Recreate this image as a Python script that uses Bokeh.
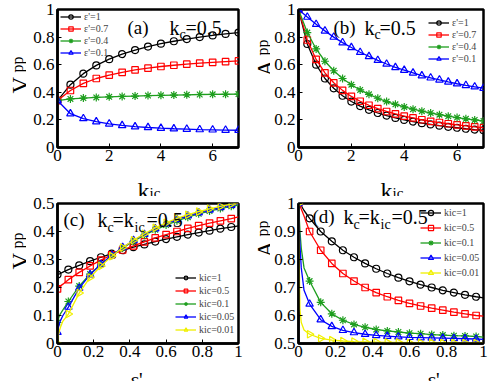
import math
from bokeh.plotting import figure
from bokeh.layouts import row, column
from bokeh.models import Label, Legend, LegendItem, FixedTicker, Range1d
from bokeh.embed import file_html
from bokeh.resources import INLINE

SERIF = "Liberation Serif"

# ---------------- data: panel (a)  V_pp vs k_ic ----------------
a_kic = [0, 0.5, 1, 1.5, 2, 2.5, 3, 3.5, 4, 4.5, 5, 5.5, 6, 6.5, 7]
a_e1 = [0.34, 0.455, 0.535, 0.595, 0.64, 0.677, 0.706, 0.731, 0.752, 0.77, 0.786, 0.80, 0.812, 0.823, 0.833]
a_e07 = [0.34, 0.413, 0.465, 0.50, 0.525, 0.545, 0.562, 0.575, 0.587, 0.596, 0.604, 0.611, 0.617, 0.622, 0.627]
a_e04 = [0.34, 0.352, 0.358, 0.363, 0.367, 0.37, 0.373, 0.376, 0.378, 0.38, 0.382, 0.384, 0.385, 0.386, 0.387]
a_e01 = [0.34, 0.245, 0.21, 0.187, 0.171, 0.16, 0.151, 0.145, 0.14, 0.136, 0.133, 0.13, 0.128, 0.126, 0.125]

# ---------------- data: panel (b)  A_pp vs k_ic ----------------
b_kic = [0, 0.333, 0.667, 1, 1.333, 1.667, 2, 2.333, 2.667, 3, 3.333, 3.667, 4, 4.333, 4.667,
         5, 5.333, 5.667, 6, 6.333, 6.667, 7]
b_e1 = [1, 0.75, 0.60, 0.50, 0.429, 0.375, 0.333, 0.30, 0.273, 0.25, 0.231, 0.214, 0.20, 0.188,
        0.176, 0.167, 0.158, 0.15, 0.143, 0.136, 0.13, 0.125]
b_e07 = [1, 0.779, 0.638, 0.541, 0.469, 0.414, 0.37, 0.335, 0.306, 0.282, 0.261, 0.243, 0.227,
         0.214, 0.201, 0.19, 0.181, 0.172, 0.164, 0.157, 0.15, 0.144]
b_e04 = [1, 0.833, 0.714, 0.625, 0.556, 0.5, 0.455, 0.417, 0.385, 0.357, 0.333, 0.313, 0.294,
         0.278, 0.263, 0.25, 0.238, 0.227, 0.217, 0.208, 0.2, 0.192]
b_e01 = [1, 0.945, 0.893, 0.845, 0.80, 0.76, 0.725, 0.69, 0.66, 0.632, 0.605, 0.58, 0.56, 0.54,
         0.52, 0.505, 0.49, 0.475, 0.462, 0.45, 0.44, 0.43]

# ---------------- data: panel (c)  V_pp vs eps' ----------------
c_eps = [0, 0.06, 0.12, 0.18, 0.24, 0.30, 0.36, 0.42, 0.48, 0.54, 0.60, 0.66, 0.72, 0.78, 0.84, 0.90, 0.96]
c_k1 = [0.246, 0.264, 0.279, 0.294, 0.308, 0.321, 0.333, 0.344, 0.354, 0.364, 0.373, 0.381, 0.389, 0.396, 0.403, 0.41, 0.416]
c_k05 = [0.195, 0.228, 0.254, 0.277, 0.298, 0.317, 0.334, 0.349, 0.363, 0.377, 0.389, 0.40, 0.411, 0.421, 0.43, 0.438, 0.446]
c_k01 = [0.075, 0.15, 0.205, 0.248, 0.283, 0.314, 0.341, 0.365, 0.387, 0.406, 0.423, 0.438, 0.451, 0.463, 0.473, 0.482, 0.49]
c_k005 = [0.04, 0.13, 0.198, 0.246, 0.283, 0.315, 0.343, 0.368, 0.39, 0.41, 0.428, 0.443, 0.456, 0.467, 0.477, 0.486, 0.494]
c_k001 = [0.0, 0.105, 0.18, 0.236, 0.277, 0.312, 0.343, 0.369, 0.392, 0.413, 0.431, 0.447, 0.46, 0.471, 0.481, 0.49, 0.498]
# extra curve points read near eps'=0 and at eps'=1 (curve only, no markers)
c_head_eps = [0.004, 0.008, 0.015, 0.03]
c_head = {"k1": [0.247, 0.248, 0.25, 0.255], "k05": [0.198, 0.2, 0.205, 0.212],
          "k01": [0.085, 0.095, 0.105, 0.12], "k005": [0.055, 0.065, 0.08, 0.10],
          "k001": [0.025, 0.04, 0.055, 0.08]}
c_tail = {"k1": 0.42, "k05": 0.452, "k01": 0.494, "k005": 0.498, "k001": 0.50}

# ---------------- data: panel (d)  A_pp vs eps' ----------------
d_eps = [0, 0.06, 0.12, 0.18, 0.24, 0.30, 0.36, 0.42, 0.48, 0.54, 0.60, 0.66, 0.72, 0.78, 0.84, 0.90, 0.96]
d_k1 = [1, 0.947, 0.90, 0.865, 0.833, 0.808, 0.786, 0.767, 0.75, 0.735, 0.722, 0.71, 0.70, 0.69, 0.682, 0.674, 0.667]
d_k05 = [1, 0.90, 0.833, 0.786, 0.75, 0.723, 0.70, 0.682, 0.667, 0.654, 0.643, 0.634, 0.626, 0.619, 0.612, 0.606, 0.60]
d_k01 = [1, 0.723, 0.647, 0.606, 0.583, 0.568, 0.558, 0.55, 0.545, 0.541, 0.537, 0.535, 0.532, 0.53, 0.528, 0.527, 0.525]
d_k005 = [1, 0.641, 0.585, 0.561, 0.547, 0.539, 0.533, 0.529, 0.526, 0.524, 0.522, 0.521, 0.52, 0.519, 0.518, 0.517, 0.516]
d_k001 = [1, 0.533, 0.518, 0.512, 0.509, 0.507, 0.506, 0.505, 0.504, 0.504, 0.503, 0.503, 0.503, 0.502, 0.502, 0.502, 0.502]
d_head_eps = [0.004, 0.008, 0.015, 0.03]
d_head = {"k1": [0.998, 0.996, 0.992, 0.975], "k05": [0.995, 0.99, 0.98, 0.955],
          "k01": [0.95, 0.90, 0.84, 0.77], "k005": [0.92, 0.85, 0.77, 0.69],
          "k001": [0.80, 0.62, 0.575, 0.548]}
d_tail = {"k1": 0.663, "k05": 0.598, "k01": 0.523, "k005": 0.515, "k001": 0.502}

eps_labels = ["ε'=1", "ε'=0.7", "ε'=0.4", "ε'=0.1"]
k_labels = ["kic=1", "kic=0.5", "kic=0.1", "kic=0.05", "kic=0.01"]

BLACK, RED, GREEN, BLUE, YELLOW = "#000000", "#ff0000", "#1e9e1e", "#0000ff", "#f0f000"


def make_fig(width, height, xr, yr, xticks, yticks, borders, xover=None, yover=None):
    left, right, top, bottom = borders
    p = figure(width=width, height=height, x_range=Range1d(*xr), y_range=Range1d(*yr),
               output_backend="svg", toolbar_location=None,
               min_border_left=left, min_border_right=right,
               min_border_top=top, min_border_bottom=bottom)
    p.grid.visible = False
    p.outline_line_color = "black"
    p.outline_line_width = 2.5
    p.outline_line_alpha = 1
    p.background_fill_color = "white"
    p.border_fill_color = "white"
    p.xaxis.ticker = FixedTicker(ticks=xticks)
    p.yaxis.ticker = FixedTicker(ticks=yticks)
    if xover:
        p.xaxis.major_label_overrides = xover
    if yover:
        p.yaxis.major_label_overrides = yover
    for ax in (p.xaxis[0], p.yaxis[0]):
        ax.axis_line_width = 2.5
        ax.axis_line_color = "black"
        ax.major_tick_in = 4
        ax.major_tick_out = 0
        ax.major_tick_line_width = 1
        ax.minor_tick_line_color = None
        ax.major_label_text_font = SERIF
        ax.major_label_text_font_size = "17px"
        ax.major_label_text_color = "black"
    p.xaxis[0].major_label_standoff = 2
    p.yaxis[0].major_label_standoff = 3
    return p


def strip(width, height):
    s = figure(width=width, height=height, x_range=Range1d(0, 1), y_range=Range1d(0, 1),
               output_backend="svg", toolbar_location=None, x_axis_type=None, y_axis_type=None,
               min_border_left=0, min_border_right=0, min_border_top=0, min_border_bottom=0)
    s.outline_line_color = None
    s.background_fill_color = "white"
    s.border_fill_color = "white"
    return s


def add_series(p, items, x, y, color, marker, label, lx=None, ly=None, angle=0.0, size=7):
    lr = p.line(lx if lx is not None else x, ly if ly is not None else y, line_color=color, line_width=1.3)
    sr = p.scatter(x, y, marker=marker, size=size, angle=angle, line_color=color, line_width=1.2,
                   fill_color=None)
    items.append(LegendItem(label=label, renderers=[lr, sr]))


def add_legend(p, items, location, label_height, spacing):
    lg = Legend(items=items, location=location, label_text_font=SERIF, label_text_font_size="10px",
                label_height=label_height, glyph_height=label_height, glyph_width=21, spacing=spacing,
                padding=2, margin=0, label_standoff=3, border_line_alpha=0,
                background_fill_alpha=0)
    p.add_layout(lg, "center")


def txt(p, text, dx, dy, size, angle=0.0):
    p.add_layout(Label(x=dx, y=dy, x_units="screen", y_units="screen", text=text,
                       text_font=SERIF, text_font_size=f"{size}px", text_color="black",
                       text_align="left", text_baseline="alphabetic", angle=angle))


def build_line(x, y, head_x, head_y, tail_x, tail_y):
    return [x[0]] + head_x + x[1:] + [tail_x], [y[0]] + head_y + y[1:] + [tail_y]


frac_over_1 = {0: "0", 0.2: "0.2", 0.4: "0.4", 0.6: "0.6", 0.8: "0.8", 1: "1"}
ROT = math.pi / 2

# ---------------- panel (a) ----------------
pa = make_fig(219, 168, (0, 7), (0, 1), [0, 2, 4, 6], [0, 0.2, 0.4, 0.6, 0.8, 1],
              (31, 7, 9, 21), yover=frac_over_1)
items = []
add_series(pa, items, a_kic, a_e1, BLACK, "circle", eps_labels[0])
add_series(pa, items, a_kic, a_e07, RED, "square", eps_labels[1], size=6.5)
add_series(pa, items, a_kic, a_e04, GREEN, "asterisk", eps_labels[2], size=8)
add_series(pa, items, a_kic, a_e01, BLUE, "triangle", eps_labels[3], size=7.5)
add_legend(pa, items, (1, 87), 11, 1)
txt(pa, "(a)", 70, 120, 19)
txt(pa, "k", 112, 120, 20)
txt(pa, "c", 122, 113, 14)
txt(pa, "=0.5", 128, 120, 20)

# ---------------- panel (b) ----------------
pb = make_fig(220, 168, (0, 7), (0, 1), [0, 2, 4, 6], [0, 0.2, 0.4, 0.6, 0.8, 1],
              (28, 7, 9, 21), yover=frac_over_1)
items = []
add_series(pb, items, b_kic, b_e1, BLACK, "circle", eps_labels[0])
add_series(pb, items, b_kic, b_e07, RED, "square", eps_labels[1], size=6.5)
add_series(pb, items, b_kic, b_e04, GREEN, "asterisk", eps_labels[2], size=8)
add_series(pb, items, b_kic, b_e01, BLUE, "triangle", eps_labels[3], size=7.5)
add_legend(pb, items, (128, 81), 11, 1)
txt(pb, "(b)", 35, 120, 19)
txt(pb, "k", 66, 120, 20)
txt(pb, "c", 76, 113, 14)
txt(pb, "=0.5", 81, 120, 20)

# ---------------- panel (c) ----------------
pc = make_fig(219, 168, (0, 1), (0, 0.5), [0, 0.2, 0.4, 0.6, 0.8, 1], [0, 0.1, 0.2, 0.3, 0.4, 0.5],
              (31, 7, 7, 21), xover=frac_over_1,
              yover={0: "0", 0.1: "0.1", 0.2: "0.2", 0.3: "0.3", 0.4: "0.4", 0.5: "0.5"})
items = []
for key, y, col, mk, lab, sz, ang in [("k1", c_k1, BLACK, "circle", k_labels[0], 7, 0.0),
                                      ("k05", c_k05, RED, "square", k_labels[1], 6.5, 0.0),
                                      ("k01", c_k01, GREEN, "asterisk", k_labels[2], 8, 0.0),
                                      ("k005", c_k005, BLUE, "triangle", k_labels[3], 7.5, 0.0),
                                      ("k001", c_k001, YELLOW, "triangle", k_labels[4], 7.5, -ROT)]:
    lx, ly = build_line(c_eps, y, c_head_eps, c_head[key], 1.0, c_tail[key])
    add_series(pc, items, c_eps, y, col, mk, lab, lx=lx, ly=ly, angle=ang, size=sz)
add_legend(pc, items, (116, 6), 9, 2)
txt(pc, "(c)", 6, 124, 19)
txt(pc, "k", 40, 124, 20)
txt(pc, "c", 50, 116, 14)
txt(pc, "=k", 55, 124, 20)
txt(pc, "ic", 77, 116, 14)
txt(pc, "=0.5", 89, 124, 20)

# ---------------- panel (d) ----------------
pd_ = make_fig(220, 168, (0, 1), (0.5, 1), [0, 0.2, 0.4, 0.6, 0.8, 1], [0.5, 0.6, 0.7, 0.8, 0.9, 1],
               (28, 7, 7, 21), xover=frac_over_1,
               yover={0.5: "0.5", 0.6: "0.6", 0.7: "0.7", 0.8: "0.8", 0.9: "0.9", 1: "1"})
items = []
for key, y, col, mk, lab, sz, ang in [("k1", d_k1, BLACK, "circle", k_labels[0], 7, 0.0),
                                      ("k05", d_k05, RED, "square", k_labels[1], 6.5, 0.0),
                                      ("k01", d_k01, GREEN, "asterisk", k_labels[2], 8, 0.0),
                                      ("k005", d_k005, BLUE, "triangle", k_labels[3], 7.5, 0.0),
                                      ("k001", d_k001, YELLOW, "triangle", k_labels[4], 7.5, -ROT)]:
    lx, ly = build_line(d_eps, y, d_head_eps, d_head[key], 1.0, d_tail[key])
    add_series(pd_, items, d_eps, y, col, mk, lab, lx=lx, ly=ly, angle=ang, size=sz)
add_legend(pd_, items, (120, 62), 13, 2)
txt(pd_, "(d)", 14, 127, 19)
txt(pd_, "k", 45, 127, 20)
txt(pd_, "c", 55, 119, 14)
txt(pd_, "=k", 60, 127, 20)
txt(pd_, "ic", 82, 119, 14)
txt(pd_, "=0.5", 93, 127, 20)

# ---------------- axis-title strips (text outside the plot frames) ----------------
ya = strip(26, 168)
txt(ya, "V", 20, 54, 23, ROT)
txt(ya, "pp", 17, 75, 16, ROT)
yb = strip(25, 168)
txt(yb, "A", 20, 71, 23, ROT)
txt(yb, "pp", 17, 92, 16, ROT)
yc = strip(26, 168)
txt(yc, "V", 20, 74, 23, ROT)
txt(yc, "pp", 17, 95, 16, ROT)
yd = strip(25, 168)
txt(yd, "A", 20, 86, 23, ROT)
txt(yd, "pp", 17, 107, 16, ROT)

xa = strip(245, 28)
txt(xa, "k", 137, 6, 24)
txt(xa, "ic", 149, 4, 15)
xb = strip(245, 28)
txt(xb, "k", 135, 6, 24)
txt(xb, "ic", 147, 4, 15)
xc = strip(245, 17)
txt(xc, "ε'", 130, 2, 20)
xd = strip(245, 17)
txt(xd, "ε'", 182, 2, 20)

layout = column(row(ya, pa, yb, pb), row(xa, xb), row(yc, pc, yd, pd_), row(xc, xd))

open("out.html", "w").write(file_html(layout, INLINE))
